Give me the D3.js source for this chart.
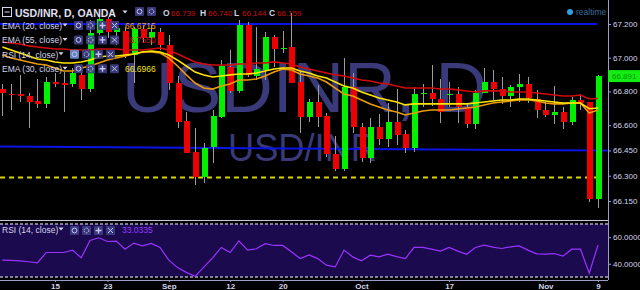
<!DOCTYPE html>
<html>
<head>
<meta charset="utf-8">
<script src="https://cdn.jsdelivr.net/npm/d3@7"></script>
<style>
  html, body { margin: 0; padding: 0; background: #000; }
  svg { display: block; font-family: 'Liberation Sans', Arial, sans-serif; }
</style>
</head>
<body>
<svg id="chart" width="640" height="290"></svg>
<script>
// USD/INR daily candles, Aug 5 - Nov 9 2016 (weekdays)
const firstDay = '2016-08-05'
const lastDay = '2016-11-09'

const opens = [66.814, 66.787, 66.785, 66.773, 66.743, 66.726, 66.856, 66.850, 66.844, 66.898,
  66.814, 67.147, 67.230, 67.153, 67.158, 67.016, 67.170, 67.117, 67.153, 67.075,
  66.850, 66.625, 66.441, 66.293, 66.470, 66.648, 66.945, 66.803, 67.194, 66.892,
  66.927, 67.123, 67.056, 67.064, 66.856, 66.648, 66.737, 66.654, 66.429, 66.340,
  66.826, 66.589, 66.405, 66.589, 66.518, 66.619, 66.548, 66.465, 66.788, 66.791,
  66.755, 66.782, 66.785, 66.708, 66.607, 66.791, 66.856, 66.814, 66.773, 66.826,
  66.844, 66.755, 66.690, 66.660, 66.678, 66.619, 66.749, 66.739, 66.159]
const highs = [66.844, 66.844, 66.898, 66.791, 66.874, 66.886, 66.909, 66.915, 66.939, 66.939,
  67.224, 67.250, 67.240, 67.212, 67.182, 67.182, 67.194, 67.194, 67.176, 67.135,
  66.892, 66.678, 66.583, 66.494, 66.690, 66.986, 67.046, 67.224, 67.212, 67.182,
  67.153, 67.135, 67.158, 67.265, 66.915, 66.755, 66.838, 66.672, 66.536, 66.998,
  66.909, 66.613, 66.642, 66.666, 66.731, 66.814, 66.571, 66.826, 66.844, 66.957,
  66.874, 66.856, 66.826, 66.726, 66.809, 66.939, 66.927, 66.886, 66.838, 66.903,
  66.886, 66.809, 66.737, 66.832, 66.708, 66.767, 66.785, 66.740, 66.895]
const lows = [66.654, 66.690, 66.737, 66.583, 66.702, 66.702, 66.826, 66.678, 66.826, 66.749,
  66.797, 67.135, 67.117, 67.075, 66.998, 66.850, 67.093, 67.075, 67.046, 66.809,
  66.583, 66.432, 66.245, 66.257, 66.376, 66.642, 66.791, 66.791, 66.886, 66.868,
  66.868, 66.945, 67.028, 66.848, 66.554, 66.619, 66.589, 66.411, 66.328, 66.328,
  66.554, 66.382, 66.376, 66.482, 66.470, 66.482, 66.435, 66.441, 66.708, 66.714,
  66.613, 66.708, 66.613, 66.583, 66.577, 66.789, 66.749, 66.726, 66.708, 66.737,
  66.731, 66.642, 66.648, 66.607, 66.577, 66.601, 66.690, 66.144, 66.109]
const closes = [66.791, 66.781, 66.773, 66.737, 66.726, 66.856, 66.844, 66.845, 66.909, 66.814,
  67.147, 67.230, 67.153, 67.176, 67.016, 67.170, 67.117, 67.153, 67.075, 66.850,
  66.619, 66.435, 66.293, 66.465, 66.654, 66.951, 66.803, 67.194, 66.898, 66.933,
  67.123, 67.052, 67.060, 66.850, 66.648, 66.737, 66.648, 66.429, 66.340, 66.826,
  66.589, 66.405, 66.589, 66.518, 66.619, 66.542, 66.465, 66.785, 66.791, 66.755,
  66.678, 66.785, 66.708, 66.607, 66.791, 66.856, 66.814, 66.773, 66.826, 66.844,
  66.761, 66.690, 66.660, 66.678, 66.619, 66.749, 66.731, 66.159, 66.891]

const ema20 = [67.016, 66.998, 66.986, 66.975, 66.963, 66.957, 66.939, 66.921, 66.921, 66.939,
  66.951, 66.969, 66.986, 66.998, 67.010, 67.022, 67.034, 67.034, 67.028, 66.998,
  66.951, 66.898, 66.850, 66.820, 66.814, 66.832, 66.844, 66.868, 66.868, 66.874,
  66.892, 66.915, 66.933, 66.927, 66.903, 66.892, 66.880, 66.856, 66.820, 66.785,
  66.773, 66.749, 66.726, 66.708, 66.690, 66.678, 66.660, 66.672, 66.684, 66.690,
  66.690, 66.690, 66.696, 66.702, 66.708, 66.720, 66.731, 66.737, 66.743, 66.749,
  66.749, 66.743, 66.731, 66.726, 66.726, 66.731, 66.731, 66.672, 66.690]
const ema55 = [67.093, 67.087, 67.081, 67.070, 67.064, 67.058, 67.052, 67.052, 67.046, 67.046,
  67.046, 67.052, 67.052, 67.052, 67.046, 67.046, 67.046, 67.052, 67.058, 67.046,
  67.022, 66.998, 66.975, 66.963, 66.957, 66.957, 66.957, 66.963, 66.963, 66.969,
  66.969, 66.975, 66.969, 66.963, 66.945, 66.933, 66.921, 66.909, 66.898, 66.892,
  66.880, 66.868, 66.862, 66.850, 66.844, 66.832, 66.820, 66.820, 66.820, 66.820,
  66.814, 66.814, 66.809, 66.803, 66.797, 66.803, 66.803, 66.803, 66.797, 66.797,
  66.797, 66.791, 66.785, 66.779, 66.773, 66.773, 66.779, 66.755, 66.758]
const ema30 = [67.064, 67.046, 67.028, 67.010, 66.992, 66.986, 66.975, 66.969, 66.969, 66.975,
  66.986, 67.004, 67.010, 67.010, 67.016, 67.022, 67.034, 67.040, 67.034, 67.016,
  66.986, 66.951, 66.915, 66.898, 66.886, 66.892, 66.898, 66.903, 66.903, 66.909,
  66.921, 66.933, 66.939, 66.939, 66.921, 66.909, 66.892, 66.880, 66.856, 66.832,
  66.820, 66.797, 66.779, 66.761, 66.749, 66.737, 66.720, 66.726, 66.726, 66.726,
  66.726, 66.726, 66.726, 66.726, 66.731, 66.737, 66.743, 66.749, 66.749, 66.755,
  66.755, 66.749, 66.743, 66.737, 66.731, 66.731, 66.731, 66.697, 66.702]
const rsi14 = [42.7, 42.5, 42.2, 41.5, 40.6, 48.5, 48.5, 48.5, 50.3, 44.5,
  57.6, 59.6, 56.8, 57.1, 51.0, 55.6, 53.5, 55.3, 52.3, 42.7,
  37.1, 33.5, 30.5, 37.5, 44.5, 52.3, 48.5, 57.3, 50.3, 51.3,
  55.1, 53.8, 53.8, 49.0, 43.9, 46.6, 43.9, 38.9, 37.6, 50.3,
  45.2, 42.2, 46.5, 45.2, 47.2, 45.4, 43.9, 52.3, 52.3, 51.0,
  49.5, 52.3, 49.5, 47.2, 52.3, 54.1, 52.5, 51.5, 52.8, 53.5,
  50.3, 47.5, 47.2, 47.7, 45.7, 51.0, 51.0, 33.0, 54.1]

const tickDays = ['2016-08-15', '2016-08-23', '2016-09-01', '2016-09-12', '2016-09-20', '2016-10-03', '2016-10-17', '2016-11-01', '2016-11-09']
const tickLabels = ['15', '23', 'Sep', '12', '20', 'Oct', '17', 'Nov', '9']
const priceTicks = [67.2, 67.0, 66.8, 66.6, 66.45, 66.3, 66.15]
const rsiTicks = [60, 40]

const resistance = 67.2
const support = 66.29
const trendIdx = [-0.27, 69.1]
const trendPrice = [66.474, 66.449]

const legendRows = [
  { name: 'EMA (20, close)', value: '66.6715', color: '#e8a21a' },
  { name: 'EMA (55, close)', value: '66.7550', color: '#c8101a' },
  { name: 'RSI (14, close)', value: '', color: '#9a3cff' },
  { name: 'EMA (30, close)', value: '66.6966', color: '#f2e21a' },
]

const GREEN = '#00f000'
const RED = '#ee0000'
const AXIS_X = 608
const TEXT = '#d4d4ec'

const parseDay = d3.utcParse('%Y-%m-%d')
const fmtDay = d3.utcFormat('%Y-%m-%d')
const days = d3.utcDay
  .range(parseDay(firstDay), d3.utcDay.offset(parseDay(lastDay), 1))
  .filter((d) => d.getUTCDay() % 6 !== 0)
const dayIndex = days.map(fmtDay)

const x = d3.scaleLinear().domain([0, days.length - 1]).range([2.4, 598])
const y = d3.scaleLinear().domain([66.15, 67.2]).range([201, 24])
const yRsi = d3.scaleLinear().domain([30, 70]).range([277, 224])

const svg = d3.select('#chart')
svg.append('rect').attr('width', 640).attr('height', 290).attr('fill', '#000')

svg.append('clipPath').attr('id', 'main-clip').append('rect').attr('width', AXIS_X).attr('height', 219)
const main = svg.append('g').attr('clip-path', 'url(#main-clip)')

// watermark
main
  .append('text')
  .attr('x', 122)
  .attr('y', 112)
  .attr('textLength', 365)
  .attr('lengthAdjust', 'spacingAndGlyphs')
  .attr('font-size', 70)
  .attr('fill', '#3a3a7a')
  .text('USDINR, D')
main
  .append('text')
  .attr('x', 228)
  .attr('y', 161)
  .attr('textLength', 149)
  .attr('lengthAdjust', 'spacingAndGlyphs')
  .attr('font-size', 38)
  .attr('fill', '#3a3a7a')
  .text('USD/INR')

// levels
main
  .append('line')
  .attr('x1', x(trendIdx[0]))
  .attr('x2', x(67.9))
  .attr('y1', y(resistance))
  .attr('y2', y(resistance))
  .attr('stroke', '#0a14e6')
  .attr('stroke-width', 2)
main
  .append('line')
  .attr('x1', x(trendIdx[0]))
  .attr('x2', x(trendIdx[1]))
  .attr('y1', y(trendPrice[0]))
  .attr('y2', y(trendPrice[1]))
  .attr('stroke', '#0a14e6')
  .attr('stroke-width', 2)
main
  .append('line')
  .attr('x1', x(trendIdx[0]))
  .attr('x2', x(67.9))
  .attr('y1', y(support))
  .attr('y2', y(support))
  .attr('stroke', '#d8d400')
  .attr('stroke-width', 2)
  .attr('stroke-dasharray', '5,4')

// candles
const candles = main.append('g').attr('shape-rendering', 'crispEdges')
days.forEach(function (d, i) {
  const cx = Math.round(x(i))
  const up = closes[i] >= opens[i]
  candles
    .append('line')
    .attr('x1', cx + 0.5)
    .attr('x2', cx + 0.5)
    .attr('y1', y(highs[i]))
    .attr('y2', y(lows[i]))
    .attr('stroke', '#9c9c9c')
  const top = y(Math.max(opens[i], closes[i]))
  const bottom = y(Math.min(opens[i], closes[i]))
  candles
    .append('rect')
    .attr('x', cx - 2)
    .attr('width', 6)
    .attr('y', top)
    .attr('height', Math.max(1.5, bottom - top))
    .attr('fill', up ? GREEN : RED)
})

// moving averages
const line = d3
  .line()
  .x((d, i) => x(i))
  .y((d) => y(d))
;[
  [ema55, '#d40a0a'],
  [ema20, '#eb9a08'],
  [ema30, '#ffe600'],
].forEach(function ([values, color]) {
  main.append('path').attr('d', line(values)).attr('fill', 'none').attr('stroke', color).attr('stroke-width', 1.6)
})

// RSI panel
svg.append('line').attr('x1', 0).attr('x2', AXIS_X).attr('y1', 220.5).attr('y2', 220.5).attr('stroke', '#c8c8d8')
svg
  .append('rect')
  .attr('x', 0)
  .attr('width', AXIS_X)
  .attr('y', yRsi(70))
  .attr('height', yRsi(30) - yRsi(70))
  .attr('fill', '#1b0a4e')
;[70, 30].forEach(function (v) {
  svg
    .append('line')
    .attr('x1', 0)
    .attr('x2', AXIS_X)
    .attr('y1', yRsi(v))
    .attr('y2', yRsi(v))
    .attr('stroke', '#a8a8b8')
    .attr('stroke-width', 1.5)
    .attr('stroke-dasharray', '3,2')
})
const rsiLine = d3
  .line()
  .x((d, i) => x(i))
  .y((d) => yRsi(d))
svg.append('path').attr('d', rsiLine(rsi14)).attr('fill', 'none').attr('stroke', '#9a33ff').attr('stroke-width', 1.2)

// axes
svg.append('line').attr('x1', AXIS_X + 0.5).attr('x2', AXIS_X + 0.5).attr('y1', 0).attr('y2', 280).attr('stroke', '#9c9cc8')
svg.append('line').attr('x1', 0).attr('x2', AXIS_X).attr('y1', 280.5).attr('y2', 280.5).attr('stroke', '#9c9cc8')

function styleAxis(g) {
  g.select('.domain').remove()
  g.selectAll('.tick line').attr('stroke', '#9c9cc8')
  g.selectAll('.tick text').attr('fill', TEXT).attr('font-family', 'Liberation Sans, Arial, sans-serif')
}

svg
  .append('g')
  .attr('transform', `translate(${AXIS_X},0)`)
  .call(d3.axisRight(y).tickValues(priceTicks).tickFormat(d3.format('.3f')).tickSize(3).tickPadding(2))
  .call(styleAxis)
  .attr('font-size', 8)
svg
  .append('g')
  .attr('transform', `translate(${AXIS_X},0)`)
  .call(d3.axisRight(yRsi).tickValues(rsiTicks).tickFormat(d3.format('.4f')).tickSize(3).tickPadding(2))
  .call(styleAxis)
  .attr('font-size', 8)

const tickIdx = tickDays.map((t) => dayIndex.indexOf(t))
svg
  .append('g')
  .attr('transform', 'translate(0,280)')
  .call(
    d3
      .axisBottom(x)
      .tickValues(tickIdx)
      .tickFormat((d, k) => tickLabels[k])
      .tickSize(2)
      .tickPadding(1)
  )
  .call(styleAxis)
  .attr('font-size', 8)
  .attr('font-weight', 'bold')

// last price tag
const lastClose = closes[closes.length - 1]
svg
  .append('rect')
  .attr('x', AXIS_X)
  .attr('y', y(lastClose) - 6)
  .attr('width', 32)
  .attr('height', 12)
  .attr('fill', '#14ec14')
svg
  .append('text')
  .attr('x', AXIS_X + 4)
  .attr('y', y(lastClose) + 3)
  .attr('font-size', 8)
  .attr('fill', '#0a960a')
  .text(d3.format('.3f')(lastClose))

svg.append('circle').attr('cx', 570).attr('cy', 12).attr('r', 3).attr('fill', '#2aa2e4')
svg.append('text').attr('x', 576).attr('y', 15).attr('font-size', 8.5).attr('fill', '#3a6c9a').text('realtime')

// legends
function addIcons(g, x0, y0, count, highlight) {
  for (let k = 0; k < count; k++) {
    const bx = x0 + k * 12
    g.append('rect')
      .attr('x', bx)
      .attr('y', y0)
      .attr('width', 9)
      .attr('height', 9)
      .attr('rx', 1)
      .attr('fill', highlight && k === 0 ? '#6f8fd8' : '#3e3e86')
      .attr('opacity', 0.9)
    const cx = bx + 4.5
    const cy = y0 + 4.5
    const icon = g.append('g').attr('stroke', '#c4c4ec').attr('fill', 'none')
    if (k === 0 || k === 1) {
      icon.append('circle').attr('cx', cx).attr('cy', cy).attr('r', 2.4).attr('stroke-dasharray', k === 1 ? '1.5,1' : null)
    } else if (k === 2) {
      icon.append('path').attr('d', `M${cx - 3},${cy}H${cx + 3}M${cx},${cy - 3}V${cy + 3}`).attr('stroke-width', 1.4)
    } else {
      icon.append('path').attr('d', `M${cx - 2.5},${cy - 2.5}L${cx + 2.5},${cy + 2.5}M${cx + 2.5},${cy - 2.5}L${cx - 2.5},${cy + 2.5}`)
    }
  }
}

function addCaret(g, cx, cy) {
  g.append('path').attr('d', `M${cx - 2.5},${cy - 1.5}L${cx + 2.5},${cy - 1.5}L${cx},${cy + 1.5}Z`).attr('fill', TEXT)
}

const legend = svg.append('g')
legend.append('rect').attr('x', 2.5).attr('y', 7.5).attr('width', 9).attr('height', 9).attr('fill', 'none').attr('stroke', TEXT)
legend.append('line').attr('x1', 4.5).attr('x2', 9.5).attr('y1', 12).attr('y2', 12).attr('stroke', TEXT)
legend
  .append('text')
  .attr('x', 15)
  .attr('y', 17)
  .attr('font-size', 10.5)
  .attr('font-weight', 'bold')
  .attr('fill', '#e0e0f2')
  .text('USD/INR, D, OANDA')
addCaret(legend, 125, 12)
addIcons(legend, 135, 7, 2, false)

const ohlc = [
  ['O', opens],
  ['H', highs],
  ['L', lows],
  ['C', closes],
]
const ohlcX = [163, 200, 234, 269]
const crossIdx = days.length - 2
ohlc.forEach(function ([label, values], k) {
  legend.append('text').attr('x', ohlcX[k]).attr('y', 16).attr('font-size', 8.5).attr('font-weight', 'bold').attr('fill', '#d0d0e6').text(label)
  legend
    .append('text')
    .attr('x', ohlcX[k] + 8)
    .attr('y', 16)
    .attr('font-size', 8)
    .attr('fill', '#c81010')
    .text(d3.format('.3f')(values[crossIdx]))
})

legendRows.forEach(function (row, k) {
  const base = 29 + k * 14.4
  const isRsi = row.name.startsWith('RSI')
  legend.append('text').attr('x', 2).attr('y', base).attr('font-size', 8.5).attr('fill', TEXT).text(row.name)
  addCaret(legend, isRsi ? 61 : 65, base - 4)
  addIcons(legend, isRsi ? 70 : 74, base - 8, 4, isRsi)
  if (row.value) {
    legend.append('text').attr('x', 125).attr('y', base).attr('font-size', 8.5).attr('fill', row.color).text(row.value)
  }
})

legend.append('text').attr('x', 2).attr('y', 233).attr('font-size', 8.5).attr('fill', TEXT).text('RSI (14, close)')
addCaret(legend, 61, 229)
addIcons(legend, 70, 226, 4, false)
legend
  .append('text')
  .attr('x', 122)
  .attr('y', 233)
  .attr('font-size', 8.5)
  .attr('fill', '#9a3cff')
  .text(d3.format('.4f')(33.0335))
</script>
</body>
</html>
